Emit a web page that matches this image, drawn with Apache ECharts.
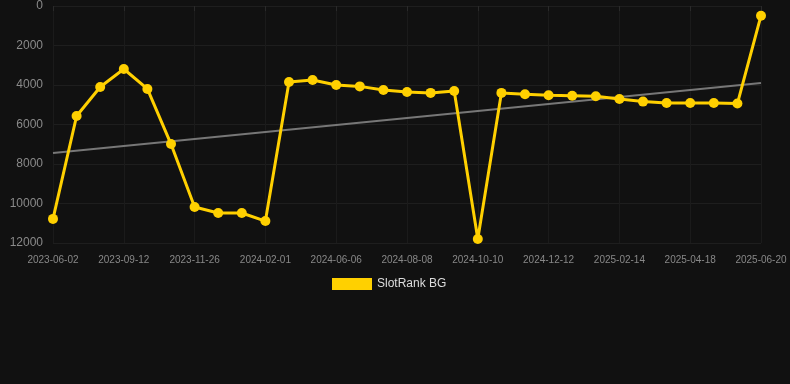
<!DOCTYPE html>
<html>
<head>
<meta charset="utf-8">
<script src="https://cdn.jsdelivr.net/npm/echarts@6/dist/echarts.min.js"></script>
<style>
  html, body { margin: 0; padding: 0; background: #111111; }
  #rankChart { width: 790px; height: 384px; }
</style>
</head>
<body>
<div id="rankChart"></div>
<script>
var dates = [
    '2023-06-02', '2023-07-06', '2023-08-09', '2023-09-12', '2023-10-07', '2023-11-01',
    '2023-11-26', '2023-12-18', '2024-01-09', '2024-02-01', '2024-03-13', '2024-04-25',
    '2024-06-06', '2024-06-27', '2024-07-18', '2024-08-08', '2024-08-29', '2024-09-19',
    '2024-10-10', '2024-10-31', '2024-11-21', '2024-12-12', '2025-01-02', '2025-01-24',
    '2025-02-14', '2025-03-07', '2025-03-28', '2025-04-18', '2025-05-09', '2025-05-30',
    '2025-06-20'
];
var ranks = [
    10780, 5570, 4100, 3190, 4200, 6990,
    10180, 10480, 10480, 10890, 3850, 3750,
    4000, 4070, 4250, 4350, 4400, 4300,
    11800, 4400, 4470, 4520, 4540, 4570,
    4710, 4840, 4910, 4910, 4910, 4940,
    490
];
// trend line read at the first and last date
var trendEnds = [7440, 3900];

(function () {
    var trendData = [
        [dates[0], trendEnds[0]],
        [dates[dates.length - 1], trendEnds[1]]
    ];

    var option = {
        backgroundColor: '#111111',
        animation: false,
        grid: {
            left: 53,
            right: 29,
            top: 6,
            bottom: 141
        },
        legend: {
            top: 273,
            left: 327,
            itemWidth: 40,
            itemHeight: 12,
            data: [{ name: 'SlotRank BG', icon: 'rect' }],
            textStyle: {
                color: '#dddddd',
                fontSize: 12,
                fontFamily: 'Liberation Sans, Arial, sans-serif'
            }
        },
        xAxis: {
            type: 'category',
            data: dates,
            boundaryGap: false,
            axisLine: { show: false },
            axisTick: {
                show: true,
                interval: 2,
                length: 5,
                lineStyle: { color: '#2a2a2a' }
            },
            axisLabel: {
                interval: 2,
                color: '#888888',
                fontSize: 10,
                margin: 12,
                fontFamily: 'Liberation Sans, Arial, sans-serif'
            },
            splitLine: {
                show: true,
                interval: 2,
                lineStyle: { color: '#1b1b1b', width: 1 }
            }
        },
        yAxis: {
            type: 'value',
            inverse: true,
            min: 0,
            max: 12000,
            interval: 2000,
            axisLine: { show: false },
            axisTick: { show: false },
            axisLabel: {
                color: '#8a8a8a',
                fontSize: 12,
                margin: 10,
                fontFamily: 'Liberation Sans, Arial, sans-serif',
                formatter: function (v) { return String(v); }
            },
            splitLine: {
                lineStyle: { color: '#1e1e1e', width: 1 }
            }
        },
        series: [{
            name: 'Trend',
            type: 'line',
            data: trendData,
            symbol: 'none',
            silent: true,
            lineStyle: { color: '#777777', width: 2 },
            z: 1
        }, {
            name: 'SlotRank BG',
            type: 'line',
            data: ranks,
            symbol: 'circle',
            symbolSize: 10,
            color: '#FFD000',
            lineStyle: { color: '#FFD000', width: 3 },
            itemStyle: { color: '#FFD000' },
            z: 2
        }]
    };
    var myChart = echarts.init(document.getElementById('rankChart'));
    myChart.setOption(option);
})();
</script>
</body>
</html>
